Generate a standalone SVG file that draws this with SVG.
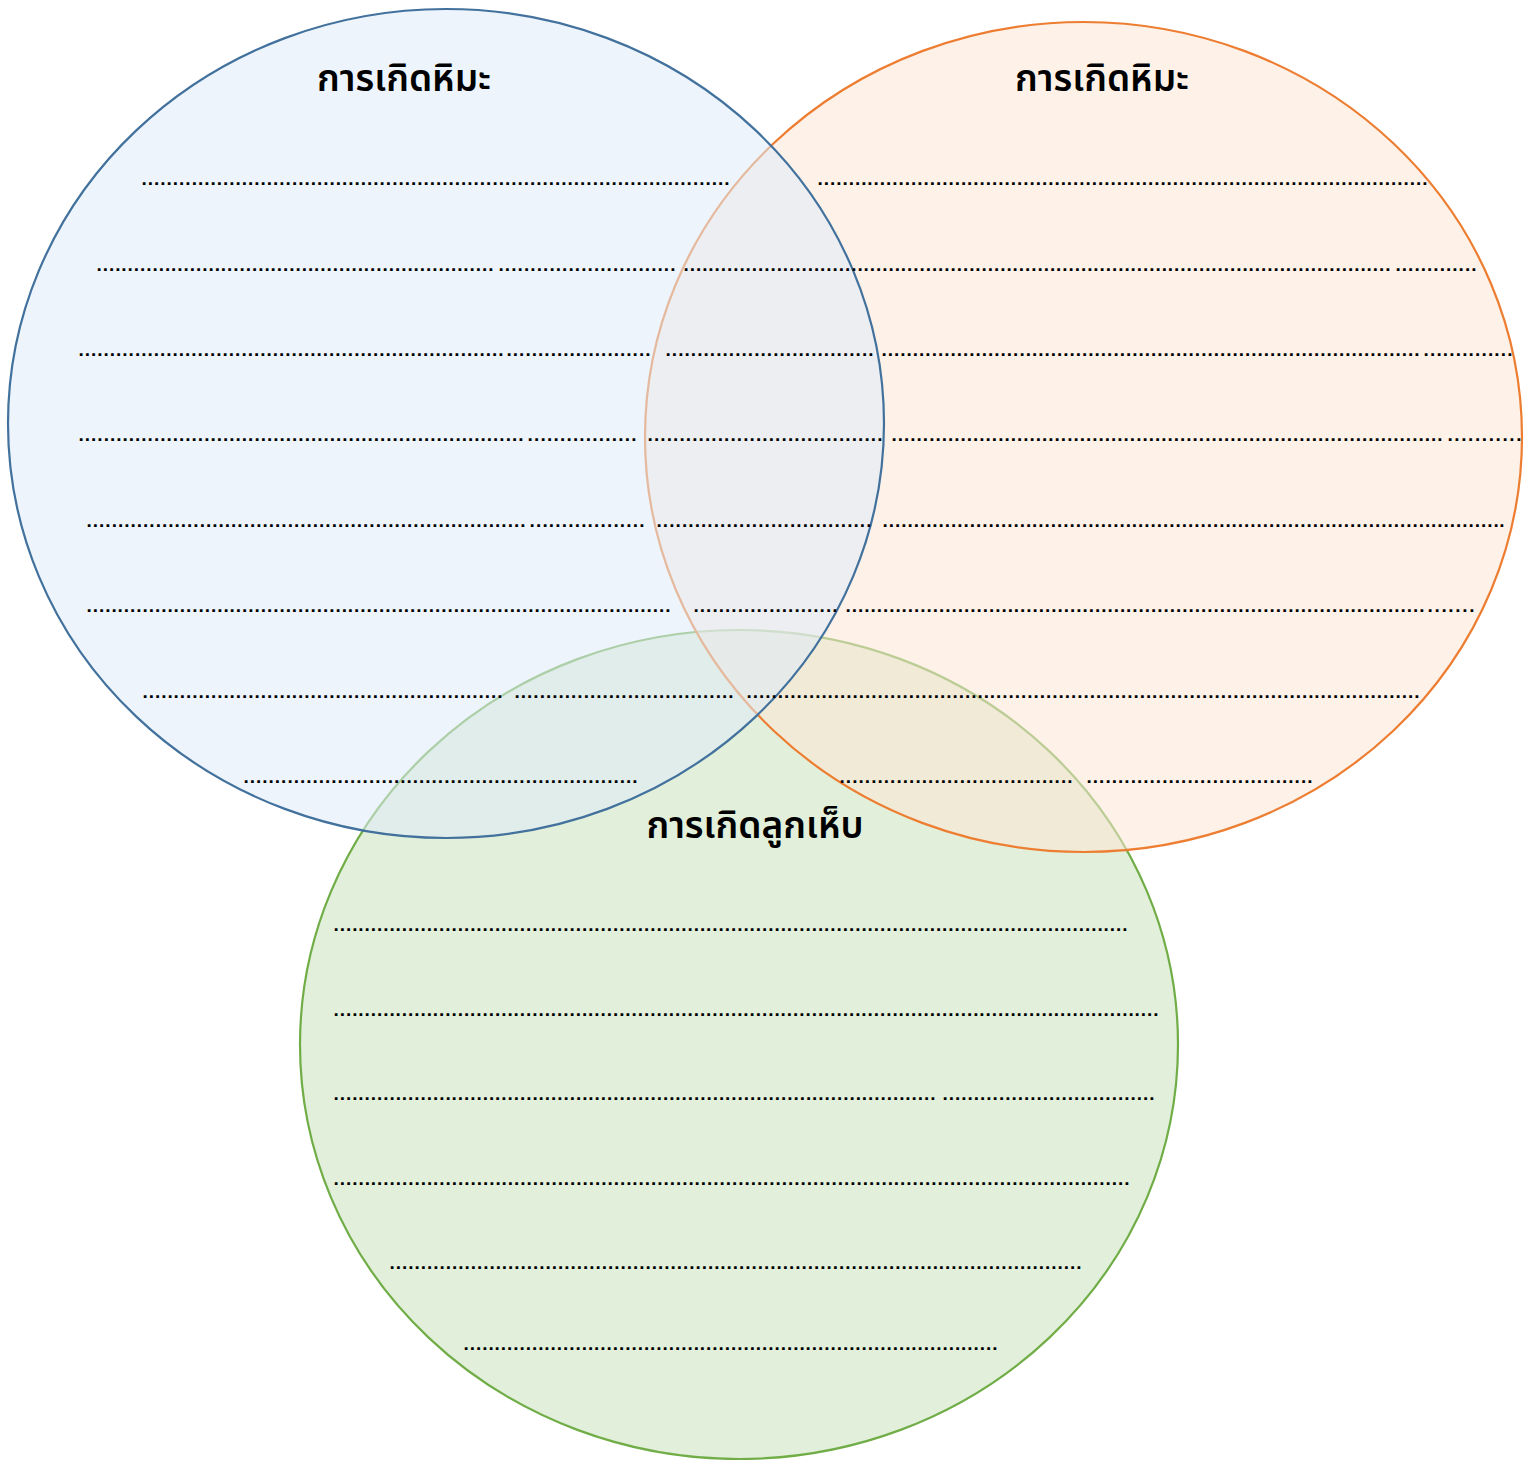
<svg xmlns="http://www.w3.org/2000/svg" width="1527" height="1460" viewBox="0 0 1527 1460">
<style>
.title{font-family:"Noto Sans Thai","Noto Sans","DejaVu Sans",sans-serif;font-size:37px;font-weight:600;fill:#000;text-anchor:middle}
.dots{font-family:"Liberation Sans",Arial,sans-serif;font-size:19px;font-weight:bold;fill:#000}
</style>
<rect width="1527" height="1460" fill="#ffffff"/>
<g id="node-green">
<ellipse cx="739" cy="1044.5" rx="439" ry="414.5" fill="#E2EFDA" stroke="#70AD47" stroke-width="2.2"/>
</g>
<g id="node-orange">
<ellipse cx="1083.5" cy="437" rx="438.5" ry="415" fill="#FBE5D6" fill-opacity="0.55" stroke="#ED7D31" stroke-width="2.2"/>
</g>
<g id="node-blue">
<ellipse cx="446" cy="423.5" rx="438" ry="414.5" fill="#DEEBF7" fill-opacity="0.55" stroke="#41719C" stroke-width="2.2"/>
</g>
<g id="connectors"></g>
<g id="labels-blue">
<text class="title" x="404" y="91">การเกิดหิมะ</text>
<text class="dots" x="141.5" y="185" textLength="588" lengthAdjust="spacing">..............................................................................................</text>
<text class="dots" x="96.5" y="270.5" textLength="397" lengthAdjust="spacing">................................................................</text>
<text class="dots" x="498.5" y="270.5" textLength="177" lengthAdjust="spacing">............................</text>
<text class="dots" x="78.5" y="355.5" textLength="425" lengthAdjust="spacing">....................................................................</text>
<text class="dots" x="506.5" y="355.5" textLength="144" lengthAdjust="spacing">.......................</text>
<text class="dots" x="78.5" y="441" textLength="445" lengthAdjust="spacing">.......................................................................</text>
<text class="dots" x="527.5" y="441" textLength="109" lengthAdjust="spacing">.................</text>
<text class="dots" x="86.5" y="526.5" textLength="439" lengthAdjust="spacing">......................................................................</text>
<text class="dots" x="529.5" y="526.5" textLength="115" lengthAdjust="spacing">..................</text>
<text class="dots" x="86.5" y="612" textLength="584" lengthAdjust="spacing">..............................................................................................</text>
<text class="dots" x="142.5" y="697.5" textLength="360" lengthAdjust="spacing">..........................................................</text>
<text class="dots" x="514.5" y="697.5" textLength="219" lengthAdjust="spacing">...................................</text>
<text class="dots" x="243.5" y="783" textLength="394" lengthAdjust="spacing">...............................................................</text>
</g>
<g id="labels-orange">
<text class="title" x="1102" y="91">การเกิดหิมะ</text>
<text class="dots" x="817.5" y="185" textLength="610" lengthAdjust="spacing">..................................................................................................</text>
<text class="dots" x="683.5" y="270.5" textLength="707" lengthAdjust="spacing">..................................................................................................................</text>
<text class="dots" x="1395.5" y="270.5" textLength="81" lengthAdjust="spacing">.............</text>
<text class="dots" x="665.5" y="355.5" textLength="208" lengthAdjust="spacing">.................................</text>
<text class="dots" x="881.5" y="355.5" textLength="538" lengthAdjust="spacing">......................................................................................</text>
<text class="dots" x="1423.5" y="355.5" textLength="89" lengthAdjust="spacing">..............</text>
<text class="dots" x="647.5" y="441" textLength="235" lengthAdjust="spacing">.....................................</text>
<text class="dots" x="891.5" y="441" textLength="551" lengthAdjust="spacing">........................................................................................</text>
<text class="dots" x="1447.5" y="441" textLength="74" lengthAdjust="spacing">...........</text>
<text class="dots" x="656.5" y="526.5" textLength="215" lengthAdjust="spacing">..................................</text>
<text class="dots" x="882.5" y="526.5" textLength="610" lengthAdjust="spacing">..................................................................................................</text>
<text class="dots" x="1493.5" y="526.5" textLength="11" lengthAdjust="spacing">..</text>
<text class="dots" x="693.5" y="612" textLength="144" lengthAdjust="spacing">.......................</text>
<text class="dots" x="845.5" y="612" textLength="579" lengthAdjust="spacing">.............................................................................................</text>
<text class="dots" x="1427.5" y="612" textLength="47" lengthAdjust="spacing">.......</text>
<text class="dots" x="746.5" y="697.5" textLength="673" lengthAdjust="spacing">............................................................................................................</text>
<text class="dots" x="839.5" y="783" textLength="233" lengthAdjust="spacing">.....................................</text>
<text class="dots" x="1086.5" y="783" textLength="226" lengthAdjust="spacing">....................................</text>
</g>
<g id="labels-green">
<text class="title" x="755" y="838">การเกิดลูกเห็บ</text>
<text class="dots" x="333.5" y="931" textLength="794" lengthAdjust="spacing">................................................................................................................................</text>
<text class="dots" x="333.5" y="1015.5" textLength="825" lengthAdjust="spacing">.....................................................................................................................................</text>
<text class="dots" x="333.5" y="1100" textLength="602" lengthAdjust="spacing">.................................................................................................</text>
<text class="dots" x="942.5" y="1100" textLength="212" lengthAdjust="spacing">..................................</text>
<text class="dots" x="333.5" y="1184.5" textLength="796" lengthAdjust="spacing">................................................................................................................................</text>
<text class="dots" x="389.5" y="1268.5" textLength="692" lengthAdjust="spacing">...............................................................................................................</text>
<text class="dots" x="463.5" y="1349.5" textLength="534" lengthAdjust="spacing">......................................................................................</text>
</g>
</svg>
